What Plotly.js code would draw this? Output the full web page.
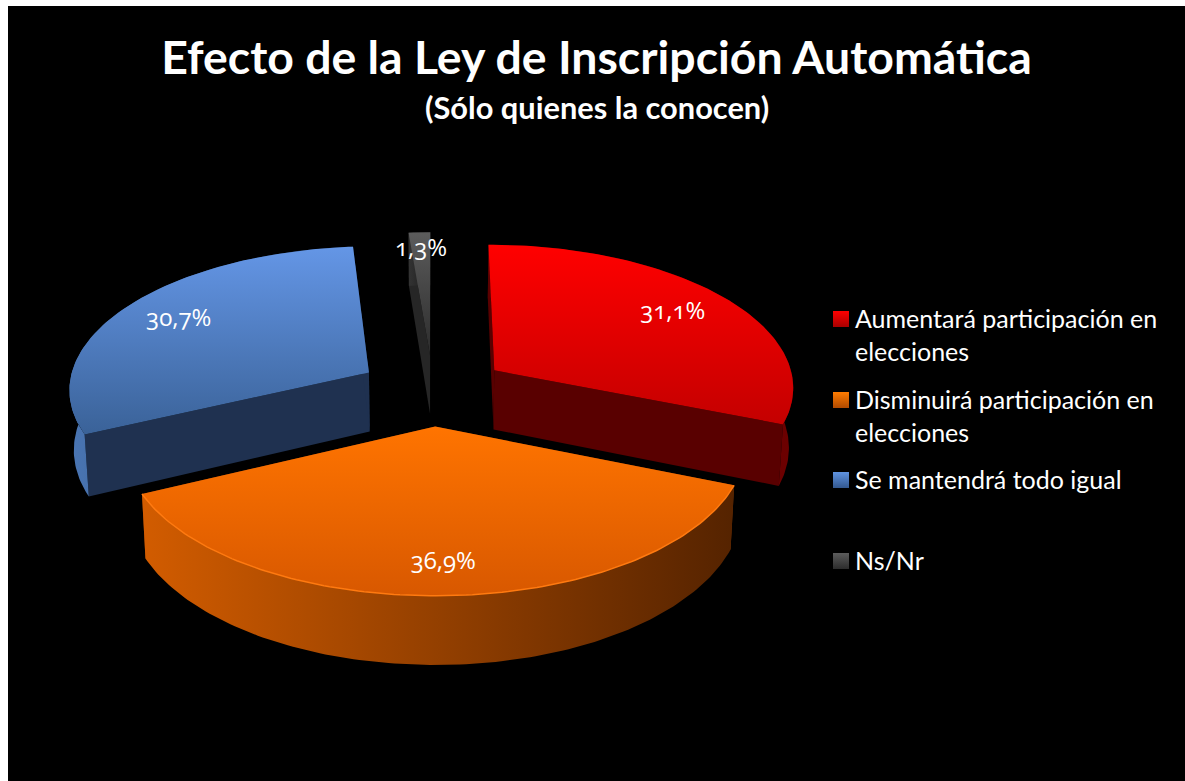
<!DOCTYPE html>
<html>
<head>
<meta charset="utf-8">
<script src="https://cdn.plot.ly/plotly-3.0.1.min.js"></script>
<style>
html,body{margin:0;padding:0;background:#fff}
#chart{width:1185px;height:781px}
svg text{font-variant-numeric:oldstyle-nums;font-feature-settings:"onum" 1}
</style>
</head>
<body>
<div id="chart"></div>
<script>
// Data
const categories = ["Aumentará participación en elecciones","Disminuirá participación en elecciones","Se mantendrá todo igual","Ns/Nr"];
const shares = [31.1, 36.9, 30.7, 1.3];
const legendLabels = ["Aumentará participación en<br>elecciones","Disminuirá participación en<br>elecciones","Se mantendrá todo igual","Ns/Nr"];
const titleText = "Efecto de la Ley de Inscripción Automática";
const subtitleText = "(Sólo quienes la conocen)";

// Style
const FONT = 'Lato, "Open Sans", sans-serif';
const NUMFONT = '"Open Sans", Lato, sans-serif';
const topColors   = [["#c40000","#ff0000"],["#d85800","#ff7400"],["#3a6298","#6496e6"],["#2c2c2c","#5c5c5c"]];
const wallColors  = [["#5c0000","#6c0000"],["#d25c00","#552300"],["#4a76b4","#1f3150"],["#333333","#1a1a1a"]];
const cutColors   = ["#590000","#7a3300","#1f3150","#262626"];
const swatchColors= [["#ff0000","#a80000"],["#ff7c00","#b04a00"],["#5f93e0","#33588f"],["#5c5c5c","#2c2c2c"]];

// Projection of the tilted, exploded disc (paper pixels = axis units)
const cx=433, cy=390, R=301, A=0.475, K=0.000352, DEPTH=60, PULL=75, CONVERGE=0.012;
const labelRadius=[0.77,0.825,0.78,0.84];
function project(X,Y,Z){const s=1/(1+K*Y);return [cx+X*s*(1-CONVERGE*Z), cy-Y*A*s+DEPTH*Z*s];}

const traces=[];
function poly(pts,fill,hv){
  const t={x:pts.map(p=>p[0]),y:pts.map(p=>p[1]),mode:'lines',line:{width:0},fill:'toself',hoverinfo:'skip',showlegend:false,type:'scatter'};
  if(Array.isArray(fill)){t.fillgradient={type:hv,colorscale:[[0,fill[0]],[1,fill[1]]]};}
  else{t.fillcolor=fill;}
  traces.push(t);
}
function sector(i,a0,a1){
  const rad=d=>d*Math.PI/180, mid=(a0+a1)/2;
  const px=PULL*Math.sin(rad(mid)), py=PULL*Math.cos(rad(mid));
  const disc=(a,r)=>[px+r*Math.sin(rad(a)),py+r*Math.cos(rad(a))];
  const arc=z=>{const o=[];const n=Math.max(2,Math.ceil(a1-a0));for(let j=0;j<=n;j++){const a=a0+(a1-a0)*j/n;const d=disc(a,R);o.push(project(d[0],d[1],z));}return o;};
  const apex=z=>project(px,py,z), top=arc(0), bot=arc(1);
  // cut walls
  [top[0],top[top.length-1]].forEach((e,k)=>{
    const b=k?bot[bot.length-1]:bot[0];
    poly([apex(0),e,b,apex(1),apex(0)],cutColors[i]);
  });
  // outer wall
  poly(top.concat(bot.slice().reverse()),wallColors[i],'horizontal');
  // top face
  poly([apex(0)].concat(top,[apex(0)]),topColors[i],'vertical');
  return {arc:top,label:project.apply(null,disc(mid,R*labelRadius[i]).concat(0))};
}
const total=shares.reduce((a,b)=>a+b,0);
let acc=0; const spans=shares.map(v=>{const s=[acc,acc+v/total*360];acc=s[1];return s;});
const drawOrder=[3,0,2,1]; const out=[];
drawOrder.forEach(i=>{out[i]=sector(i,spans[i][0],spans[i][1]);});
// orange front rim highlight
const rim=out[1].arc;
traces.push({x:rim.map(p=>p[0]),y:rim.map(p=>p[1]),mode:'lines',line:{color:'#ff7a10',width:1.5},hoverinfo:'skip',showlegend:false,type:'scatter'});
// value labels
traces.push({type:'scatter',mode:'text',hoverinfo:'skip',showlegend:false,
  x:out.map(o=>o.label[0]),y:out.map(o=>o.label[1]),
  text:shares.map(v=>v.toFixed(1).replace('.',',')+'%'),textposition:'middle center',
  textfont:{family:NUMFONT,size:24,color:'#fff'}});
// legend swatches
const legendY=[319,400,480,561];
categories.forEach((c,i)=>{
  traces.push({type:'scatter',mode:'markers',name:c,x:[841],y:[legendY[i]],hoverinfo:'skip',showlegend:false,
    marker:{symbol:'square',size:16,color:swatchColors[i][0],gradient:{type:'vertical',color:swatchColors[i][1]},line:{width:0}}});
});
const annotations=legendLabels.map((l,i)=>({x:854,y:legendY[i]-17.5,xref:'x',yref:'y',xanchor:'left',yanchor:'top',align:'left',showarrow:false,text:l,borderpad:0,
  font:{family:FONT,size:25,color:'#fff'}}));
annotations.push({x:597,y:107,xref:'x',yref:'y',xanchor:'center',yanchor:'middle',showarrow:false,text:subtitleText,font:{family:FONT,size:30.8,color:'#fff',weight:700}});

const layout={width:1185,height:781,margin:{l:8,t:6,r:0,b:0,pad:0},paper_bgcolor:'#fff',plot_bgcolor:'#000',showlegend:false,
  xaxis:{range:[8,1185],visible:false,fixedrange:true},
  yaxis:{range:[781,6],visible:false,fixedrange:true},
  title:{text:titleText,x:596.5/1185,xanchor:'center',y:1-58/781,yanchor:'middle',font:{family:FONT,size:46.4,color:'#fff',weight:700}},
  annotations:annotations};
Plotly.newPlot('chart',traces,layout,{displayModeBar:false,staticPlot:true});
</script>
</body>
</html>
